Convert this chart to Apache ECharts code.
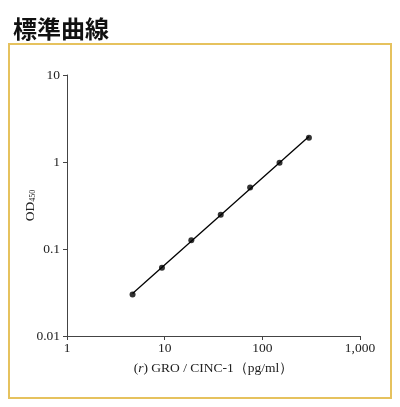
<!DOCTYPE html>
<html>
<head>
<meta charset="utf-8">
<script src="https://cdn.jsdelivr.net/npm/echarts@6/dist/echarts.min.js"></script>
<style>html,body{margin:0;padding:0;background:#fff;}#c{width:400px;height:407px;}</style>
</head>
<body>
<div id="c"></div>
<script>
var titleText = '標準曲線';
var concentrations = [4.69, 9.38, 18.75, 37.5, 75, 150, 300];
var odValues = [0.030, 0.061, 0.126, 0.248, 0.508, 0.98, 1.90];
var xTicks = [1, 10, 100, 1000];
var yTicks = [0.01, 0.1, 1, 10];

// log-log linear fit through the standards
function fitLine(xs, ys) {
  var n = xs.length, sx = 0, sy = 0, sxx = 0, sxy = 0;
  for (var i = 0; i < n; i++) {
    var lx = Math.log10(xs[i]), ly = Math.log10(ys[i]);
    sx += lx; sy += ly; sxx += lx * lx; sxy += lx * ly;
  }
  var b = (n * sxy - sx * sy) / (n * sxx - sx * sx);
  var a = (sy - b * sx) / n;
  var x0 = xs[0], x1 = xs[n - 1];
  return [[x0, Math.pow(10, a + b * Math.log10(x0))], [x1, Math.pow(10, a + b * Math.log10(x1))]];
}

var serif = '"Liberation Serif", "DejaVu Serif", serif';
var chart = echarts.init(document.getElementById('c'));
chart.setOption({
  animation: false,
  title: {
    text: titleText, left: 8, top: 12,
    textStyle: { fontFamily: '"Noto Sans CJK JP"', fontSize: 24, fontWeight: 'bold', color: '#111' }
  },
  graphic: [{
    type: 'rect', shape: { x: 9, y: 44, width: 382, height: 354 },
    style: { fill: 'none', stroke: '#E6C25E', lineWidth: 2 }, silent: true
  }],
  grid: { left: 67, right: 40, top: 75, bottom: 71 },
  xAxis: {
    type: 'log', logBase: 10, min: 1, max: 1000,
    name: '{i|(}{it|r}{i|) GRO / CINC-1（pg/ml）}',
    nameLocation: 'middle', nameGap: 25,
    nameTextStyle: {
      rich: {
        i: { fontFamily: serif, fontSize: 13.5, color: '#222' },
        it: { fontFamily: serif, fontSize: 13.5, fontStyle: 'italic', color: '#222' }
      }
    },
    axisLine: { lineStyle: { color: '#444', width: 1 } },
    axisTick: { show: true, length: 4, inside: false, lineStyle: { color: '#444' } },
    axisLabel: {
      fontFamily: serif, fontSize: 13.5, color: '#222', margin: 5,
      formatter: function (v) { return xTicks.indexOf(v) >= 0 ? v.toLocaleString('en-US') : ''; }
    },
    splitLine: { show: false }, minorTick: { show: false }
  },
  yAxis: {
    type: 'log', logBase: 10, min: 0.01, max: 10,
    name: '{a|OD}{s|450}',
    nameLocation: 'middle', nameGap: 30, nameRotate: 90, nameMoveOverlap: false,
    nameTextStyle: {
      rich: {
        a: { fontFamily: serif, fontSize: 13.5, color: '#222' },
        s: { fontFamily: serif, fontSize: 8, color: '#222', verticalAlign: 'bottom' }
      }
    },
    axisLine: { show: true, lineStyle: { color: '#444', width: 1 } },
    axisTick: { show: true, length: 4, inside: false, lineStyle: { color: '#444' } },
    axisLabel: {
      fontFamily: serif, fontSize: 13.5, color: '#222', margin: 7,
      formatter: function (v) { return yTicks.indexOf(+v.toPrecision(3)) >= 0 ? String(+v.toPrecision(3)) : ''; }
    },
    splitLine: { show: false }, minorTick: { show: false }
  },
  series: [
    {
      type: 'line', data: fitLine(concentrations, odValues), showSymbol: false,
      lineStyle: { color: '#000', width: 1.3 }, silent: true
    },
    {
      type: 'scatter', data: concentrations.map(function (c, i) { return [c, odValues[i]]; }),
      symbol: 'circle', symbolSize: 6, itemStyle: { color: '#000' }
    }
  ]
});
</script>
</body>
</html>
